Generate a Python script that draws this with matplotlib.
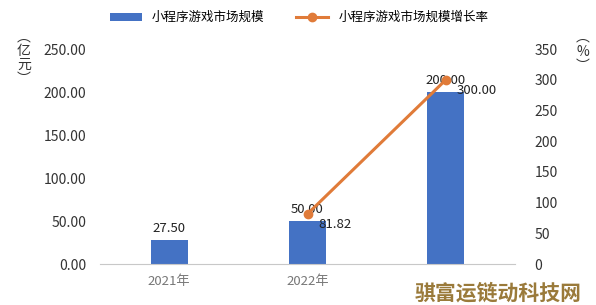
import matplotlib.pyplot as plt
import numpy as np

plt.rcParams['font.family'] = ['Noto Sans CJK SC', 'DejaVu Sans']

years = ['2021年', '2022年', '2023年']
market_size = [27.50, 50.00, 200.00]      # 亿元
growth_years = [1, 2]
growth_rate = [81.82, 300.00]             # %

bar_color = '#4472C4'
line_color = '#E07B39'

fig = plt.figure(figsize=(5.96, 3.05), dpi=100)
ax = fig.add_axes([0.168, 0.134, 0.696, 0.705])
ax2 = ax.twinx()

x = np.arange(len(years))
bars = ax.bar(x, market_size, width=0.27, color=bar_color, label='小程序游戏市场规模', zorder=2)
ax.set_xlim(-0.5, 2.5)
ax.set_ylim(0, 250)
ax.set_yticks(np.arange(0, 251, 50))
ax.set_yticklabels([f'{v:.2f}' for v in np.arange(0, 251, 50)], fontsize=10, color='#333333')
ax.set_xticks(x)
ax.set_xticklabels(['2021年', '2022年', ''], fontsize=9.5, color='#777777')
ax.tick_params(axis='both', length=0)
ax.tick_params(axis='y', pad=10)
ax.tick_params(axis='x', pad=8)

for s in ['top', 'right', 'left']:
    ax.spines[s].set_visible(False)
    ax2.spines[s].set_visible(False)
ax2.spines['bottom'].set_visible(False)
ax.spines['bottom'].set_color('#c8c8c8')

line, = ax2.plot(growth_years, growth_rate, color=line_color, lw=2.2, marker='o',
                 markersize=6, label='小程序游戏市场规模增长率', zorder=3)
ax2.set_ylim(0, 350)
ax2.set_yticks(np.arange(0, 351, 50))
ax2.set_yticklabels([str(v) for v in range(0, 351, 50)], fontsize=10, color='#333333')
ax2.tick_params(axis='y', length=0, pad=14)

# value labels
for xi, v in zip(x, market_size):
    ax.annotate(f'{v:.2f}', xy=(xi, v), xytext=(0, 4), textcoords='offset points',
                ha='center', va='bottom', fontsize=9.5, color='#222222')
for xi, v in zip(growth_years, growth_rate):
    ax2.annotate(f'{v:.2f}', xy=(xi, v), xytext=(8, -3), textcoords='offset points',
                 ha='left', va='top', fontsize=9.5, color='#222222')

# axis unit labels (vertical)
fig.text(0.04, 0.81, '︵\n亿\n元\n︶', ha='center', va='center', fontsize=10,
         color='#333333', linespacing=1.0)
fig.text(0.978, 0.83, '︵\n%\n︶', ha='center', va='center', fontsize=10,
         color='#333333', linespacing=1.0)

# legend
fig.legend(handles=[bars, line], loc='upper left', bbox_to_anchor=(0.165, 1.0),
           ncol=2, frameon=False, fontsize=9, handlelength=2.6, columnspacing=2.5,
           handletextpad=0.8)

fig.text(0.835, 0.04, '骐富运链动科技网', ha='center', va='center', fontsize=15,
         color='#9a7a3a', fontweight='bold', zorder=10)

fig.savefig('out.png', dpi=100)
